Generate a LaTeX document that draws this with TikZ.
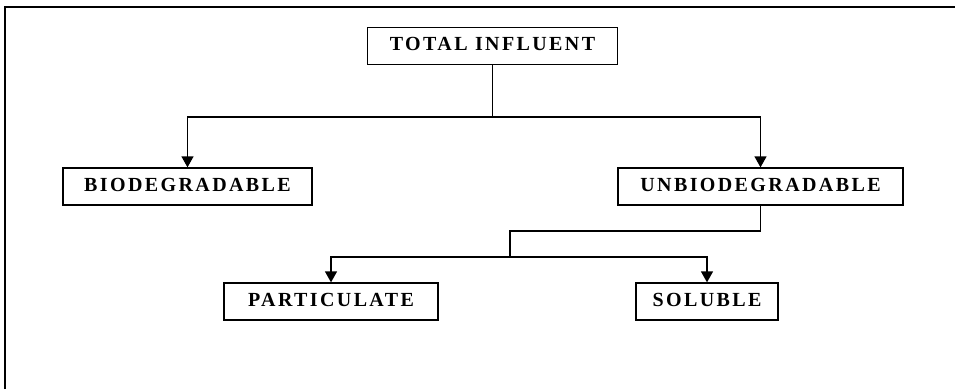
\documentclass[tikz,border=0pt]{standalone}
\usepackage{fontspec}
\setmainfont{Liberation Serif}
\newfontfamily\boxfont[LetterSpace=12]{Liberation Serif}
\usetikzlibrary{arrows.meta, positioning}

\begin{document}
\begin{tikzpicture}[x=1pt, y=-1pt,
    box/.style={draw, line width=1.3pt, minimum height=37pt, inner sep=0pt,
      text height=13pt, text depth=4pt,
      font=\boxfont\bfseries\fontsize{20}{22}\selectfont},
    link/.style={line width=1.3pt},
    arr/.style={link, -{Triangle[width=12pt, length=11pt]}}]
    \useasboundingbox (0,0) rectangle (955,389);

    % Frame
    \draw[line width=2.5pt] (5,389) -- (5,7) -- (955,7);

    % Root
    \node[box, minimum width=250pt] (total) at (492.5,46) {TOTAL INFLUENT};

    % First level
    \node[box, minimum width=249pt] (bio) at (187.5,186.5) {BIODEGRADABLE};
    \node[box, minimum width=285pt] (unbio) at (760.5,186.5) {UNBIODEGRADABLE};

    % Second level
    \node[box, minimum width=214pt] (part) at (331,301.5) {PARTICULATE};
    \node[box, minimum width=142pt] (sol) at (707,301.5) {SOLUBLE};

    % Split points
    \coordinate (split1) at (492.5,117);
    \coordinate (bend) at (510,231);
    \coordinate (split2) at (510,257);

    % Connectors
    \draw[link] (total) -- (split1);
    \draw[arr] (split1) -| (bio);
    \draw[arr] (split1) -| (unbio);
    \draw[link] (unbio.south) |- (bend) -- (split2);
    \draw[arr] (split2) -| (part);
    \draw[arr] (split2) -| (sol);
\end{tikzpicture}
\end{document}
